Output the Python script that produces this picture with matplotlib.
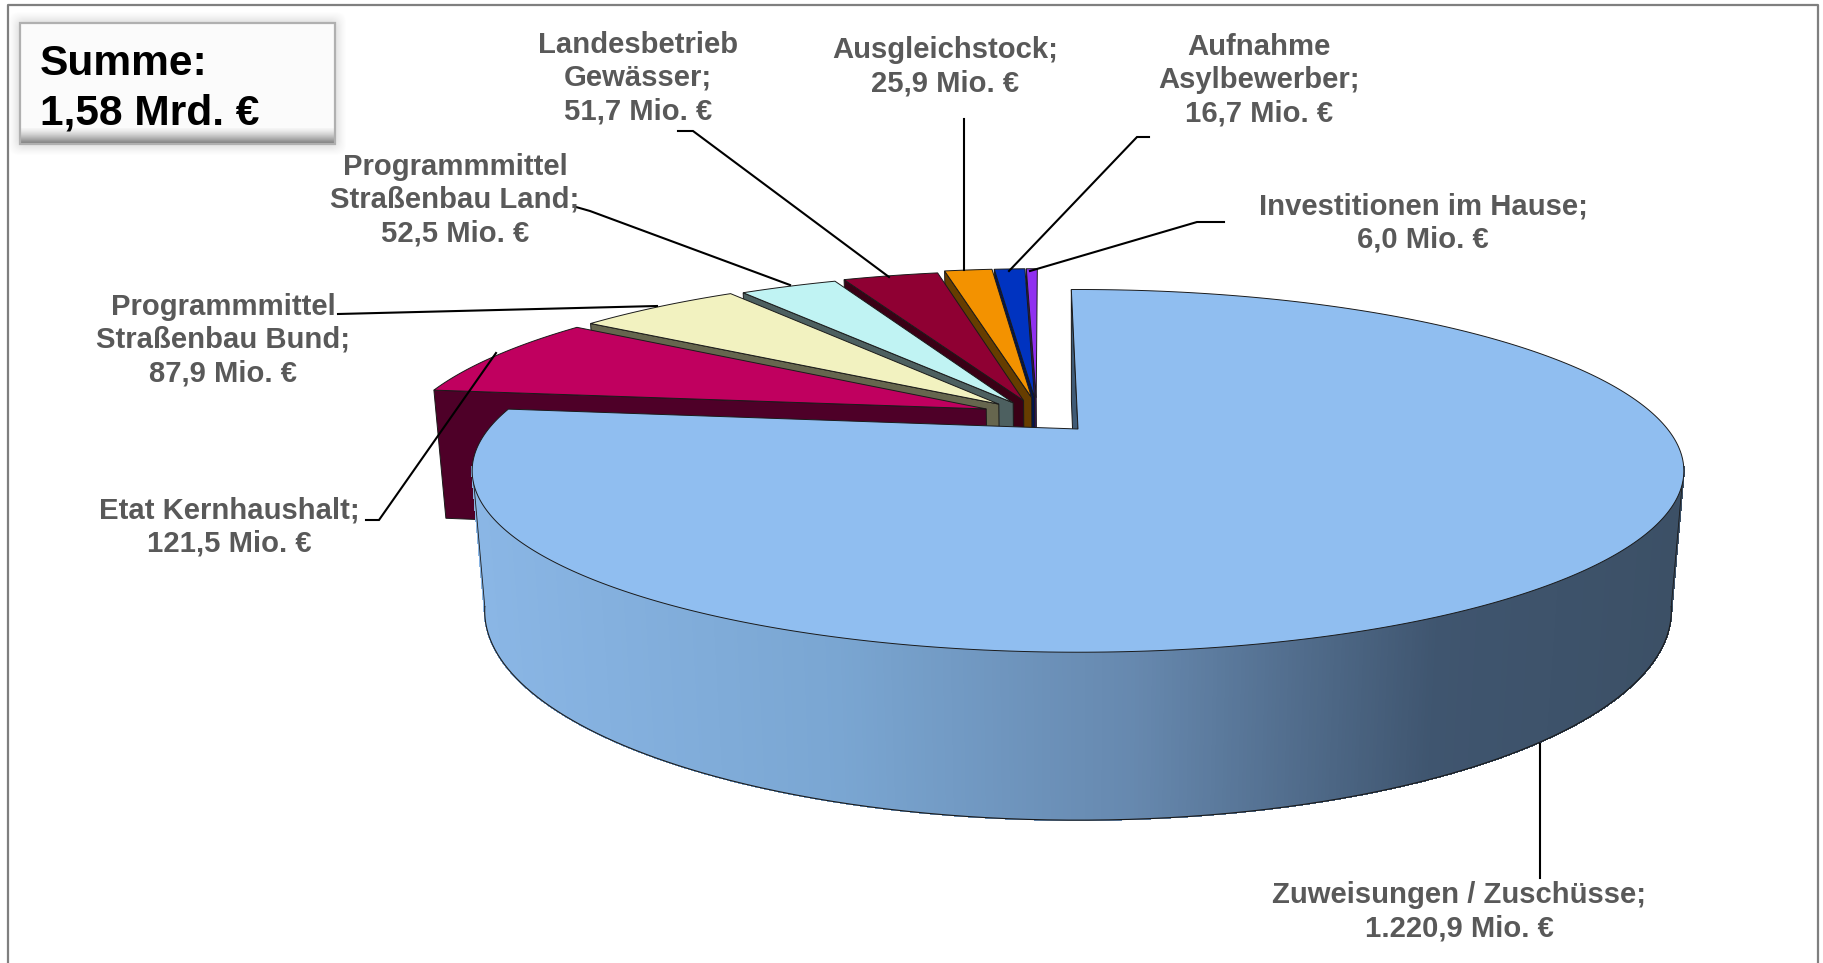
import matplotlib
matplotlib.use("Agg")
import matplotlib.pyplot as plt
import matplotlib.colors as mcolors
from matplotlib.patches import Polygon, Rectangle, FancyBboxPatch
from matplotlib.collections import PolyCollection
import numpy as np

# clockwise from 12 o'clock
names = ["Zuweisungen / Zuschüsse", "Etat Kernhaushalt", "Programmmittel\nStraßenbau Bund",
         "Programmmittel\nStraßenbau Land", "Landesbetrieb\nGewässer", "Ausgleichstock",
         "Aufnahme\nAsylbewerber", "Investitionen im Hause"]
values = [1220.9, 121.5, 87.9, 52.5, 51.7, 25.9, 16.7, 6.0]
total_label = "Summe:\n1,58 Mrd. €"

top_colors = ["#90BEF0", "#C0005F", "#F2F2C0", "#C0F3F3", "#8F0033", "#F39200", "#0033C0", "#9030F0"]
wall_colors = ["#3F5A75", "#4E0028", "#66664E", "#4D6060", "#3A0015", "#663D00", "#001450", "#3C145F"]
# how far each slice is pulled out of the pie (in units of the radius)
explode = [(0, 0), (-.16, -.12), (-.139, -.15), (-.114, -.158), (-.096, -.172),
           (-.082, -.19), (-.077, -.19), (-.074, -.19)]

label_pos = [(1459, 912), (229, 527), (223, 340), (455, 200), (638, 78), (945, 67), (1259, 80), (1423, 223)]
leaders = [
    [(1540, 744), (1540, 878)],
    [(366, 520), (379, 520), (496, 353)],
    [(338, 314), (657, 306)],
    [(576, 207), (590, 211), (790, 285)],
    [(678, 131), (693, 131), (889, 277)],
    [(964, 119), (964, 270)],
    [(1149, 137), (1137, 137), (1009, 271)],
    [(1224, 222), (1197, 222), (1030, 271)],
]

# perspective of the pie, in pixels
CX, CY = 1078, 429
A, B, C = 589.5, 171.7, 137.0
P, Q = 0.2308, 0.02
START = -0.8


def project(x, y, z=0.0):
    w = 1 / (1 - P * y + Q * z)
    return CX + A * x * w, CY + (B * y + C * z) * w


def rim(deg, off=(0, 0), z=0.0):
    t = np.radians(deg)
    return project(np.sin(t) + off[0], -np.cos(t) + off[1], z)


def grad_color(x):
    stops = [(0.0, "#8AB6E5"), (0.3, "#7AA6D2"), (0.55, "#6688AE"), (0.8, "#3F556F"), (1.0, "#3C5066")]
    pos = (x - 485) / (1670 - 485)
    xs = [s[0] for s in stops]
    rgb = np.array([mcolors.to_rgb(s[1]) for s in stops])
    return [float(np.interp(pos, xs, rgb[:, i])) for i in range(3)]


fig = plt.figure(figsize=(18.23, 9.63), dpi=100)
ax = fig.add_axes([0, 0, 1, 1])
ax.set_xlim(0, 1823)
ax.set_ylim(963, 0)
ax.axis("off")
plt.rcParams["font.family"] = ["Liberation Sans", "DejaVu Sans"]

edge = dict(edgecolor="#1a1a1a", linewidth=0.7)

# frame, no bottom line because the picture is cut there
ax.plot([8, 8, 1818, 1818], [963, 5, 5, 963], color="#7f7f7f", lw=1.6)

sweep = np.array(values) / sum(values) * 360
starts = START + np.concatenate([[0], np.cumsum(sweep)[:-1]])

# small slices first, back to front
for i in range(len(values) - 1, 0, -1):
    off = explode[i]
    t0, t1 = starts[i], starts[i] + sweep[i]
    apex_top = project(off[0], off[1])
    apex_bot = project(off[0], off[1], 1)
    face = [apex_top, rim(t0, off), rim(t0, off, 1), apex_bot]
    ax.add_patch(Polygon(face, closed=True, facecolor=wall_colors[i], **edge))
    arc = [rim(t, off) for t in np.linspace(t0, t1, 40)]
    ax.add_patch(Polygon([apex_top] + arc, closed=True, facecolor=top_colors[i], **edge))

# main slice: cut face, outer wall with gradient, top
t0, t1 = starts[0], starts[0] + sweep[0]
face = [project(0, 0), rim(t0), rim(t0, z=1), project(0, 0, 1)]
ax.add_patch(Polygon(face, closed=True, facecolor=wall_colors[0], **edge))

angles = np.linspace(102, 258, 500)
order = np.argsort(np.abs(angles - 180))[::-1]
strips, cols = [], []
for k in order:
    if k == len(angles) - 1:
        continue
    a, b = angles[k], angles[k + 1]
    quad = [rim(a), rim(b), rim(b, z=1), rim(a, z=1)]
    strips.append(quad)
    cols.append(grad_color(np.mean([q[0] for q in quad])))
ax.add_collection(PolyCollection(strips, facecolors=cols, edgecolors=cols, linewidths=0.6,
                                 antialiaseds=False, zorder=2))
bottom = np.array([rim(t, z=1) for t in angles])
ax.plot(bottom[:, 0], bottom[:, 1], color="#1a1a1a", lw=0.8, zorder=2)
for t in (102, 258):
    ax.plot(*zip(rim(t), rim(t, z=1)), color="#1a1a1a", lw=0.6, zorder=2)

arc = [rim(t) for t in np.linspace(t0, t1, 400)]
ax.add_patch(Polygon([project(0, 0)] + arc, closed=True, facecolor=top_colors[0], zorder=3, **edge))

# leader lines and labels
for line in leaders:
    ax.plot(*zip(*line), color="black", lw=1.5, zorder=4, solid_joinstyle="miter")

for name, v, pos in zip(names, values, label_pos):
    num = f"{v:,.1f}".replace(",", "X").replace(".", ",").replace("X", ".")
    ax.text(pos[0], pos[1], f"{name};\n{num} Mio. €", ha="center", va="center", fontsize=21.1,
            fontweight="bold", color="#595959", linespacing=1.23, zorder=5)

# box with the sum
for g, al in zip(range(22, 0, -2), np.linspace(0.012, 0.03, 11)):
    ax.add_patch(FancyBboxPatch((20 - g / 2, 23 - g / 2), 315 + g, 121 + g, boxstyle="round,pad=0,rounding_size=10",
                                facecolor="#808080", edgecolor="none", alpha=al, zorder=5))
ax.add_patch(Rectangle((20, 23), 315, 121, facecolor="#FBFBFB", edgecolor="none", zorder=6))
base, dark = np.array(mcolors.to_rgb("#F4F4F4")), np.array(mcolors.to_rgb("#7C7C7C"))
for y in np.arange(128, 144, 1.0):
    f = ((y - 128) / 15) ** 1.3
    ax.add_patch(Rectangle((20, y), 315, 1.2, facecolor=base + (dark - base) * f, edgecolor="none", zorder=6))
ax.add_patch(Rectangle((20, 23), 315, 121, facecolor="none", edgecolor="#B0B0B0", lw=1.6, zorder=7))
ax.text(40, 89, total_label, ha="left", va="center", fontsize=30.6, fontweight="bold", color="black",
        linespacing=1.3, zorder=8)

fig.savefig("out.png", dpi=100)
